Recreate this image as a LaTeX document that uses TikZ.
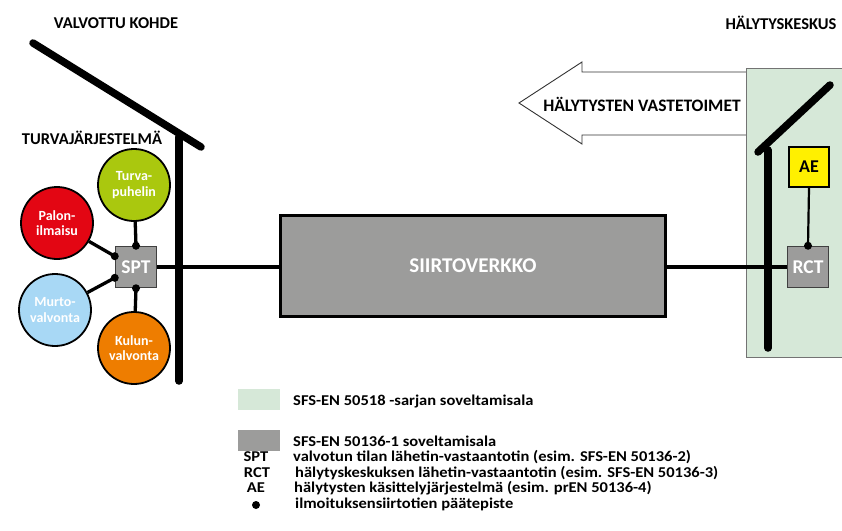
\documentclass[tikz,border=0pt]{standalone}
\usepackage{fontspec}
\setmainfont{Carlito}
\newfontfamily\selitefont{Carlito}[FakeStretch=1.1]
\usetikzlibrary{calc}

\definecolor{keskusvihrea}{HTML}{D6E8D8}
\definecolor{laiteharmaa}{HTML}{9C9C9B}
\definecolor{turvavihrea}{HTML}{AAC80E}
\definecolor{palopuna}{HTML}{E30613}
\definecolor{murtosini}{HTML}{A8D8F5}
\definecolor{kulunoranssi}{HTML}{EE7D00}
\definecolor{aekeltainen}{HTML}{FFF000}

\tikzset{
  seina/.style={line width=7.5pt, line cap=round},
  yhteys/.style={line width=3.3pt},
  anturi/.style={circle, draw=black, line width=1.8pt, minimum size=72pt, inner sep=0pt,
    text=white, align=center, font=\bfseries\fontsize{14}{15.5}\selectfont},
  laite/.style={draw=black!75, line width=1.5pt, fill=laiteharmaa, text=white,
    minimum size=41pt, inner sep=0pt, font=\bfseries\fontsize{19.5}{19.5}\selectfont},
  piste/.style={circle, fill=black, inner sep=0pt, minimum size=8pt},
  otsikko/.style={font=\bfseries\fontsize{16.5}{18}\selectfont, inner sep=0pt},
  selite/.style={font=\selitefont\bfseries\fontsize{15}{15}\selectfont, inner sep=0pt, text height=10pt, text depth=3pt}
}

\begin{document}
\begin{tikzpicture}[x=1pt,y=-1pt]
            \useasboundingbox (0,0) rectangle (842,530);

            \node[otsikko] (kohde) at (116,23) {VALVOTTU KOHDE};
            \node[otsikko] (keskus) at (781,23) {HÄLYTYSKESKUS};
            \node[otsikko] (turvaj) at (92,138) {TURVAJÄRJESTELMÄ};

            \draw[black!80, line width=0.9pt, fill=white] (746,72) -- (582,72) -- (582,62) -- (519,103)
                -- (582,144) -- (582,135) -- (746,135);
            \node[otsikko, font=\bfseries\fontsize{17.5}{18}\selectfont] (vaste) at (642,104) {HÄLYTYSTEN VASTETOIMET};

            \filldraw[fill=keskusvihrea, draw=black!55, line width=0.8pt] (746,68) rectangle (850,357);

            \draw[seina] (33,43) -- (201,147);
            \draw[seina] (179,137) -- (179,381);
            \draw[seina] (758,152) -- (830,85);
            \draw[seina] (768,150) -- (768,348);

            \node[anturi, fill=turvavihrea] (turva) at (134,185) {Turva-\\puhelin};
            \node[anturi, fill=palopuna] (palo) at (57,223) {Palon-\\ilmaisu};
            \node[anturi, fill=murtosini] (murto) at (55,310) {Murto-\\valvonta};
            \node[anturi, fill=kulunoranssi] (kulku) at (134,348) {Kulun-\\valvonta};

            \node[laite] (spt) at (136,267) {SPT};
            \node[draw=black, line width=3.2pt, fill=laiteharmaa, minimum width=385pt, minimum height=101pt,
                text=white, font=\bfseries\fontsize{21}{21}\selectfont] (siirto) at (473,266) {SIIRTOVERKKO};
            \node[laite] (rct) at (808,267) {RCT};
            \node[draw=black, line width=2pt, fill=aekeltainen, minimum size=40pt, inner sep=0pt,
                font=\bfseries\fontsize{18}{18}\selectfont] (ae) at (809,167) {AE};

            \node[piste] (sptN) at (spt.north) {};
            \node[piste] (sptA) at (spt.153) {};
            \node[piste] (sptB) at (spt.207) {};
            \node[piste] (sptS) at (spt.south) {};
            \node[piste] (rctN) at (rct.north) {};

            \draw[yhteys] (turva) -- (sptN.center);
            \draw[yhteys] (palo) -- (sptA.center);
            \draw[yhteys] (murto) -- (sptB.center);
            \draw[yhteys] (kulku) -- (sptS.center);
            \draw[yhteys] (spt.east) -- (siirto.west |- spt.east);
            \draw[yhteys] (siirto.east |- rct.west) -- (rct.west);
            \draw[line width=2.2pt] (ae.south) -- (rctN.center);

            \node[fill=keskusvihrea, minimum width=42pt, minimum height=21pt] (selA) at (259,399.5) {};
            \node[fill=laiteharmaa, minimum width=42pt, minimum height=21pt] (selB) at (259,440.5) {};
            \node[selite, anchor=west] (tekA) at (293,402) {SFS-EN 50518 -sarjan soveltamisala};
            \node[selite, anchor=west] (tekB) at (293,442.5) {SFS-EN 50136-1 soveltamisala};
            \node[selite] (lyhSPT) at (256,458) {SPT};
            \node[selite, anchor=west] (tekSPT) at (293,458) {valvotun tilan lähetin-vastaantotin (esim. SFS-EN 50136-2)};
            \node[selite] (lyhRCT) at (257,473.5) {RCT};
            \node[selite, anchor=west] (tekRCT) at (295,473.5) {hälytyskeskuksen lähetin-vastaantotin (esim. SFS-EN 50136-3)};
            \node[selite] (lyhAE) at (256,489) {AE};
            \node[selite, anchor=west] (tekAE) at (294,489) {hälytysten käsittelyjärjestelmä (esim. prEN 50136-4)};
            \node[piste] (selP) at (256,505) {};
            \node[selite, anchor=west] (tekP) at (295,505) {ilmoituksensiirtotien päätepiste};
        \end{tikzpicture}
\end{document}
